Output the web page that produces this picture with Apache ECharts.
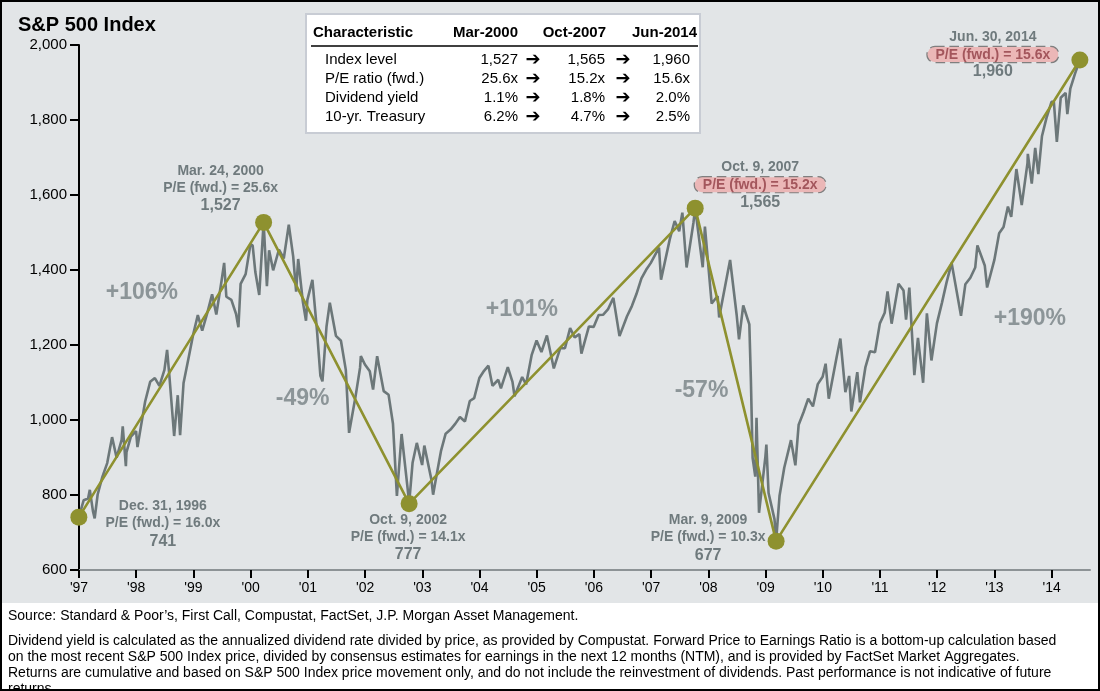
<!DOCTYPE html>
<html>
<head>
<meta charset="utf-8">
<script src="https://cdn.jsdelivr.net/npm/echarts/dist/echarts.min.js"></script>
<style>html,body{margin:0;padding:0;background:#fff}#c{width:1100px;height:691px}</style>
</head>
<body>
<div id="c"></div>
<script>
// ---------------- DATA ----------------
const spxDates = [
'1996-12-31','1997-01-31','1997-02-28','1997-03-11','1997-03-31','1997-04-11','1997-04-30','1997-05-30','1997-06-30','1997-07-31','1997-08-29','1997-09-30','1997-10-07','1997-10-27','1997-10-31','1997-11-28','1997-12-31',
'1998-01-09','1998-01-30','1998-02-27','1998-03-31','1998-04-30','1998-05-29','1998-06-30','1998-07-17','1998-07-31','1998-08-31','1998-09-23','1998-10-08','1998-10-30','1998-11-30','1998-12-31',
'1999-01-29','1999-02-26','1999-03-31','1999-04-30','1999-05-27','1999-06-30','1999-07-16','1999-07-30','1999-08-31','1999-09-30','1999-10-15','1999-10-29','1999-11-30','1999-12-31',
'2000-01-14','2000-01-31','2000-02-25','2000-03-24','2000-04-14','2000-04-28','2000-05-24','2000-06-30','2000-07-31','2000-09-01','2000-09-29','2000-10-18','2000-10-31','2000-11-30','2000-12-20','2000-12-29',
'2001-01-30','2001-02-28','2001-03-22','2001-04-04','2001-04-30','2001-05-21','2001-06-29','2001-07-31','2001-08-31','2001-09-21','2001-10-31','2001-11-30','2001-12-05','2001-12-31',
'2002-01-31','2002-02-21','2002-03-19','2002-04-30','2002-05-31','2002-06-28','2002-07-23','2002-08-22','2002-09-30','2002-10-09','2002-10-31','2002-11-27','2002-12-31',
'2003-01-14','2003-02-28','2003-03-11','2003-03-31','2003-04-30','2003-05-30','2003-06-30','2003-07-31','2003-08-29','2003-09-30','2003-10-31','2003-11-28','2003-12-31',
'2004-01-30','2004-02-27','2004-03-24','2004-04-30','2004-05-17','2004-06-30','2004-07-30','2004-08-12','2004-09-30','2004-10-25','2004-11-30','2004-12-31',
'2005-01-31','2005-03-07','2005-04-20','2005-05-31','2005-06-30','2005-08-02','2005-08-31','2005-09-30','2005-10-13','2005-11-30','2005-12-30',
'2006-01-31','2006-02-28','2006-03-31','2006-05-05','2006-06-13','2006-07-31','2006-08-31','2006-09-29','2006-10-31','2006-11-30','2006-12-29',
'2007-02-20','2007-03-05','2007-04-30','2007-05-31','2007-06-29','2007-07-19','2007-08-15','2007-09-28','2007-10-09','2007-11-26','2007-12-10',
'2008-01-22','2008-02-29','2008-03-10','2008-04-30','2008-05-19','2008-06-30','2008-07-15','2008-08-11','2008-09-19','2008-09-29','2008-10-10','2008-10-27','2008-11-04','2008-11-20','2008-12-31',
'2009-01-06','2009-01-20','2009-02-27','2009-03-09','2009-03-31','2009-04-30','2009-06-12','2009-07-10','2009-07-31','2009-08-31','2009-09-30','2009-10-30','2009-11-30','2009-12-31',
'2010-01-19','2010-02-08','2010-03-31','2010-04-23','2010-05-25','2010-06-18','2010-07-02','2010-08-09','2010-08-26','2010-09-30','2010-10-29','2010-11-30','2010-12-31',
'2011-01-31','2011-02-18','2011-03-16','2011-04-29','2011-05-31','2011-06-16','2011-07-07','2011-08-08','2011-08-31','2011-10-03','2011-10-27','2011-11-25','2011-12-30',
'2012-01-31','2012-02-29','2012-04-02','2012-06-01','2012-06-29','2012-07-31','2012-08-31','2012-09-14','2012-10-31','2012-11-15','2012-12-31',
'2013-01-31','2013-02-28','2013-03-28','2013-04-18','2013-05-21','2013-06-24','2013-07-31','2013-08-02','2013-08-27','2013-09-18','2013-10-08','2013-10-31','2013-11-29','2013-12-31',
'2014-01-15','2014-02-03','2014-02-28','2014-03-31','2014-04-11','2014-04-30','2014-05-30','2014-06-30'];
const spxLevels = [
740.74,786.16,790.82,813.65,757.12,737.65,801.34,848.28,885.14,954.29,899.47,947.28,983.12,876.99,914.62,955.40,970.43,
927.69,980.28,1049.34,1101.75,1111.75,1090.82,1133.84,1186.75,1120.67,957.28,1066.09,959.44,1098.67,1163.63,1229.23,
1279.64,1238.33,1286.37,1335.18,1281.41,1372.71,1418.78,1328.72,1320.41,1282.71,1247.41,1362.93,1388.91,1469.25,
1465.15,1394.46,1333.36,1527.46,1356.56,1452.43,1399.05,1454.60,1430.83,1520.77,1436.51,1342.13,1429.40,1314.95,1264.74,1320.28,
1373.73,1239.94,1117.58,1103.25,1249.46,1312.83,1224.42,1211.23,1133.58,965.80,1059.78,1139.45,1170.35,1148.08,
1130.20,1080.95,1170.29,1076.92,1067.14,989.82,797.70,962.70,815.28,776.76,885.76,938.87,879.82,
931.66,841.15,800.73,848.18,916.92,963.59,974.50,990.31,1008.01,995.97,1050.71,1058.20,1111.92,
1131.13,1144.94,1091.33,1107.30,1084.10,1140.84,1101.72,1063.23,1114.58,1094.81,1173.82,1211.92,
1181.27,1225.31,1137.50,1191.50,1191.33,1245.04,1220.33,1228.81,1176.84,1249.48,1248.29,
1280.08,1280.66,1294.83,1325.76,1223.69,1276.66,1303.82,1335.85,1377.94,1400.63,1418.30,
1459.68,1374.12,1482.37,1530.62,1503.35,1553.08,1406.70,1526.75,1565.15,1407.22,1515.96,
1310.50,1330.63,1273.37,1385.59,1426.63,1280.00,1214.91,1305.32,1255.08,1106.39,899.22,848.92,1005.75,752.44,903.25,
934.70,805.22,735.09,676.53,797.87,872.81,946.21,879.13,987.48,1020.62,1057.08,1036.19,1095.63,1115.10,
1150.23,1056.74,1169.43,1217.28,1074.03,1117.51,1022.58,1127.79,1047.22,1141.20,1183.26,1180.55,1257.64,
1286.12,1343.01,1256.88,1363.61,1345.20,1267.64,1353.22,1119.46,1218.89,1099.23,1284.59,1158.67,1257.60,
1312.41,1365.68,1419.04,1278.04,1362.16,1379.32,1406.58,1465.77,1412.16,1353.33,1426.19,
1498.11,1514.68,1569.19,1541.61,1669.16,1573.09,1685.73,1709.67,1630.48,1725.52,1655.45,1756.54,1805.81,1848.36,
1848.38,1741.89,1859.45,1872.34,1815.69,1883.95,1923.57,1960.23];

const pivotDates = ['1996-12-31','2000-03-24','2002-10-09','2007-10-09','2009-03-09','2014-06-30'];
const pivotLevels = [741, 1527, 777, 1565, 677, 1960];
const pivotDateText = ['Dec. 31, 1996','Mar. 24, 2000','Oct. 9, 2002','Oct. 9, 2007','Mar. 9, 2009','Jun. 30, 2014'];
const pivotPE = ['16.0x','25.6x','14.1x','15.2x','10.3x','15.6x'];
const pivotLevelText = ['741','1,527','777','1,565','677','1,960'];
const pivotHighlight = [false,false,false,true,false,true];

const moveText = ['+106%','-49%','+101%','-57%','+190%'];
const moveAnchorYear = [1998.10, 2000.91, 2004.74, 2007.88, 2013.62];
const moveAnchorLevel = [1339, 1056, 1293, 1077, 1269];

const yTicks = [600, 800, 1000, 1200, 1400, 1600, 1800, 2000];
const xTickYears = [1997,1998,1999,2000,2001,2002,2003,2004,2005,2006,2007,2008,2009,2010,2011,2012,2013,2014];

const tableHeader = ['Characteristic','Mar-2000','Oct-2007','Jun-2014'];
const tableRowLabels = ['Index level','P/E ratio (fwd.)','Dividend yield','10-yr. Treasury'];
const tableMar2000 = ['1,527','25.6x','1.1%','6.2%'];
const tableOct2007 = ['1,565','15.2x','1.8%','4.7%'];
const tableJun2014 = ['1,960','15.6x','2.0%','2.5%'];

const footerSource = "Source: Standard & Poor\u2019s, First Call, Compustat, FactSet, J.P. Morgan Asset Management.";
const footerNotes = [
"Dividend yield is calculated as the annualized dividend rate divided by price, as provided by Compustat. Forward Price to Earnings Ratio is a bottom-up calculation based",
"on the most recent S&P 500 Index price, divided by consensus estimates for earnings in the next 12 months (NTM), and is provided by FactSet Market Aggregates.",
"Returns are cumulative and based on S&P 500 Index price movement only, and do not include the reinvestment of dividends. Past performance is not indicative of future",
"returns."];

// ---------------- HELPERS ----------------
function toYear(s){
  const d = Date.parse(s + 'T00:00:00Z');
  const y = +s.slice(0,4);
  const a = Date.UTC(y,0,1), b = Date.UTC(y+1,0,1);
  return y + (d - a) / (b - a);
}
const GRAY_BG = '#e2e5e7';
const LINE_GRAY = '#6c7779';
const TXT_GRAY = '#6f7a7d';
const OLIVE = '#8e912f';
const FONT = '"Liberation Sans", Arial, sans-serif';

const spxData = spxDates.map((d,i)=>[toYear(d), spxLevels[i]]);
const pivotData = pivotDates.map((d,i)=>[toYear(d), pivotLevels[i]]);
const labelOffsets = [[84,7],[-43,-34],[-1,34],[65,-23],[-68,-3],[-87,-5]];

const pivotPoints = pivotData.map((p,i)=>({
  value: p,
  label: {
    show: true,
    position: 'inside',
    offset: labelOffsets[i],
    align: 'center',
    verticalAlign: 'middle',
    formatter: '{d|' + pivotDateText[i] + '}\n{' + (pivotHighlight[i] ? 'p' : 'd') + '|P/E (fwd.) = ' + pivotPE[i] + '}\n{v|' + pivotLevelText[i] + '}'
  }
}));

const moveData = moveText.map((t,i)=>({value:[moveAnchorYear[i], moveAnchorLevel[i]], label:{formatter:t}}));

// table graphic
const tableEls = [];
tableEls.push({type:'rect', shape:{x:306,y:14,width:394,height:119}, style:{fill:'#ffffff', stroke:'#c8ccd4', lineWidth:2}});
const colRight = [518, 605, 690];
const hdrRight = [518, 606, 697];
tableEls.push({type:'text', x:313, y:33, style:{text:tableHeader[0], font:'bold 15px '+FONT, fill:'#000', textVerticalAlign:'middle'}});
for (let c=1;c<4;c++) tableEls.push({type:'text', x:hdrRight[c-1], y:33, style:{text:tableHeader[c], font:'bold 15px '+FONT, fill:'#000', textAlign:'right', textVerticalAlign:'middle'}});
tableEls.push({type:'line', shape:{x1:311,y1:46,x2:698,y2:46}, style:{stroke:'#000', lineWidth:1.5}});
const cols = [tableMar2000, tableOct2007, tableJun2014];
const rowY = [60, 79, 98, 117];
for (let r=0;r<4;r++){
  tableEls.push({type:'text', x:325, y:rowY[r], style:{text:tableRowLabels[r], font:'15px '+FONT, fill:'#000', textVerticalAlign:'middle'}});
  for (let c=0;c<3;c++) tableEls.push({type:'text', x:colRight[c], y:rowY[r], style:{text:cols[c][r], font:'15px '+FONT, fill:'#000', textAlign:'right', textVerticalAlign:'middle'}});
  [533, 623].forEach(ax=>tableEls.push({type:'text', x:ax, y:rowY[r], style:{text:'\u2794', font:'bold 18px "DejaVu Sans"', fill:'#000', textAlign:'center', textVerticalAlign:'middle'}}));
}

const footerEls = [{type:'text', x:8, y:616, style:{text:footerSource, font:'14px '+FONT, fill:'#000', textVerticalAlign:'middle'}}];
footerNotes.forEach((t,i)=>footerEls.push({type:'text', x:8, y:641+i*16, style:{text:t, font:'14px '+FONT, fill:'#000', textVerticalAlign:'middle'}}));

// ---------------- CHART ----------------
const chart = echarts.init(document.getElementById('c'), null, {renderer:'canvas'});
chart.setOption({
  animation: false,
  backgroundColor: '#ffffff',
  title: {text:'S&P 500 Index', left: 13, top: 10, textStyle:{fontFamily:FONT, fontSize:20, fontWeight:'bold', color:'#000'}},
  grid: {left: 79, right: 10, top: 45, bottom: 121, containLabel:false},
  xAxis: {
    type:'value', min: xTickYears[0], max: 2014.67, interval: 1,
    axisLine:{show:true, lineStyle:{color:'#8d9396', width:2}},
    axisTick:{show:true, length:8, lineStyle:{color:'#000', width:2}},
    axisLabel:{margin:11, fontFamily:FONT, fontSize:14, color:'#000', showMaxLabel:false,
      formatter: v => xTickYears.indexOf(Math.round(v))>=0 ? "'" + String(Math.round(v)%100).padStart(2,'0') : ''},
    splitLine:{show:false}
  },
  yAxis: {
    type:'value', min: yTicks[0], max: yTicks[yTicks.length-1], interval: 200,
    axisLine:{show:true, lineStyle:{color:'#000', width:2}},
    axisTick:{show:true, length:9, lineStyle:{color:'#000', width:2}},
    axisLabel:{margin:12, fontFamily:FONT, fontSize:15, color:'#000',
      formatter: v => v.toLocaleString('en-US')},
    splitLine:{show:false}
  },
  graphic: [
    {type:'rect', z:-100, silent:true, shape:{x:0,y:0,width:1100,height:603}, style:{fill:GRAY_BG}},
    {type:'rect', z:100, silent:true, shape:{x:1,y:1,width:1098,height:689}, style:{fill:null, stroke:'#000', lineWidth:2}},
    {type:'group', z:100, children: tableEls},
    {type:'group', z:100, children: footerEls}
  ],
  series: [
    {type:'line', data: spxData, showSymbol:false, symbol:'none', z:2, clip:false,
     lineStyle:{color:LINE_GRAY, width:2.6}},
    {type:'line', data: pivotData, showSymbol:false, symbol:'none', z:3, clip:false,
     lineStyle:{color:OLIVE, width:2.6}},
    {type:'scatter', data: pivotPoints, symbolSize:17, z:4, clip:false,
     itemStyle:{color:OLIVE, opacity:1},
     label:{
       rich:{
         d:{fontFamily:FONT, fontSize:14, fontWeight:'bold', color:TXT_GRAY, lineHeight:17, align:'center'},
         p:{fontFamily:FONT, fontSize:14, fontWeight:'bold', color:'#a3565c', lineHeight:17, align:'center',
            backgroundColor:'#ebb7b7', borderColor:'#7f7f7f', borderWidth:1.2, borderType:'dashed', borderRadius:9, padding:[1,8,0,8]},
         v:{fontFamily:FONT, fontSize:16, fontWeight:'bold', color:TXT_GRAY, lineHeight:18, align:'center'}
       }
     }},
    {type:'scatter', data: moveData, symbolSize:1, z:5, silent:true, clip:false,
     itemStyle:{color:'rgba(0,0,0,0)'},
     label:{show:true, position:'inside', align:'center', verticalAlign:'middle',
       fontFamily:FONT, fontSize:23, fontWeight:'bold', color:'#778184'}}
  ]
});
</script>
</body>
</html>
